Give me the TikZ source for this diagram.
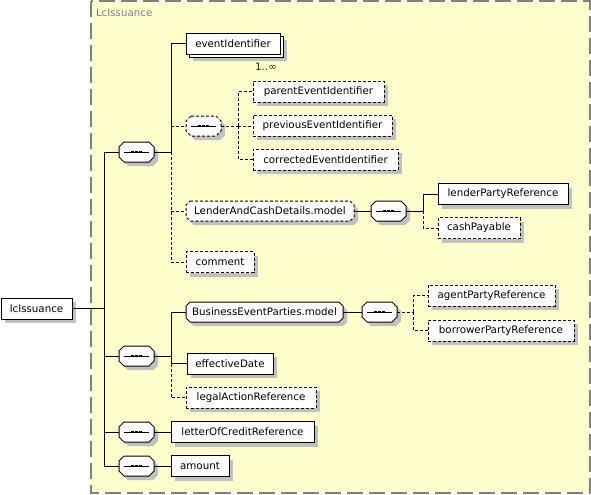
\documentclass[tikz,border=0pt]{standalone}
\usepackage{fontspec}
\setmainfont{DejaVu Sans}
\usetikzlibrary{shadows}
\definecolor{frameyellow}{RGB}{255,255,206}
\definecolor{framegray}{RGB}{128,128,128}
\definecolor{shadowgray}{RGB}{192,192,192}
\definecolor{labelblue}{RGB}{125,125,155}
\definecolor{occurs}{RGB}{40,40,0}
\pgfdeclarelayer{back}
\pgfdeclarelayer{bg}
\pgfsetlayers{back,bg,main}
\newcommand{\octo}[3]{%
  \draw[line width=0.75pt, fill=white, drop shadow={shadow xshift=3pt,shadow yshift=-3pt,fill=shadowgray,opacity=1}, #3]
    ([xshift=#2]#1.north west) -- ([xshift=-#2]#1.north east) -- ([yshift=-#2]#1.north east)
    -- ([yshift=#2]#1.south east) -- ([xshift=-#2]#1.south east) -- ([xshift=#2]#1.south west)
    -- ([yshift=#2]#1.south west) -- ([yshift=-#2]#1.north west) -- cycle;}
\begin{document}
\begin{tikzpicture}[x=0.75pt,y=-0.75pt,
  every node/.style={font=\fontsize{7.7}{9}\selectfont, inner sep=0pt, outer sep=0pt},
  shd/.style={drop shadow={shadow xshift=3pt,shadow yshift=-3pt,fill=shadowgray,opacity=1}},
  bw/.style={minimum width=#1*0.75pt},
  opt/.style={dash pattern=on 2.25pt off 1.5pt},
  conn/.style={line width=0.75pt},
  elem/.style={draw, fill=white, line width=0.75pt, rectangle, minimum height=15.75pt, anchor=west, shd},
  seqbox/.style={rectangle, minimum width=26.25pt, minimum height=15pt, anchor=west},
  modelbox/.style={rectangle, minimum height=15pt, anchor=west}
]
\useasboundingbox (0,0) rectangle (591,494);
% frame
\begin{pgfonlayer}{back}
\draw[framegray, line width=1.3pt, fill=frameyellow, dash pattern=on 12pt off 4.5pt] (91,1) rectangle (590,493);
\end{pgfonlayer}
\node[anchor=west, text=labelblue] (lbl) at (96,13) {LcIssuance};

% root
\node[elem, bw=71] (root) at (1,308.5) {lcIssuance};

% sequences
\node[seqbox] (s1) at (119,152) {};
\node[seqbox] (s2) at (119,356) {};
\node[seqbox] (s5) at (119,432) {};
\node[seqbox] (s6) at (119,466) {};
\node[seqbox] (so) at (186,126) {};
\node[seqbox] (s3) at (371,211) {};
\node[seqbox] (s4) at (362,312) {};

% group 1
\node[elem, bw=94] (eiback) at (189,46.5) {\phantom{eventIdentifier}};
\node[draw, fill=white, line width=0.75pt, rectangle, minimum height=15.75pt, anchor=west, bw=94] (ei) at (186,43.5) {eventIdentifier};
\node[text=occurs] (occ) at (266,67) {1..∞};
\node[elem, opt, bw=131] (pei) at (253,91.5) {parentEventIdentifier};
\node[elem, opt, bw=139] (vei) at (253,125.5) {previousEventIdentifier};
\node[elem, opt, bw=145] (cei) at (253,159.5) {correctedEventIdentifier};
\node[modelbox, bw=168] (lcd) at (186,211) {LenderAndCashDetails.model};
\node[elem, bw=130] (lpr) at (438,194) {lenderPartyReference};
\node[elem, opt, bw=82] (cp) at (438,228) {cashPayable};
\node[elem, opt, bw=68] (cm) at (186,262) {comment};

% group 2
\node[modelbox, bw=157] (bep) at (186,312) {BusinessEventParties.model};
\node[elem, opt, bw=127] (apr) at (428,295.5) {agentPartyReference};
\node[elem, opt, bw=146] (bpr) at (428,330.5) {borrowerPartyReference};
\node[elem, bw=86] (ed) at (187,363.5) {effectiveDate};
\node[elem, opt, bw=130] (lar) at (186,397.5) {legalActionReference};

% others
\node[elem, bw=143] (locr) at (171,432) {letterOfCreditReference};
\node[elem, bw=58] (amt) at (171,466) {amount};

% octagon outlines
\begin{pgfonlayer}{bg}
\foreach \n in {s1,s2,s3,s4,s5,s6} { \octo{\n}{3.75pt}{} }
\octo{so}{3.75pt}{opt}
\octo{lcd}{3pt}{opt}
\octo{bep}{3pt}{}
\end{pgfonlayer}

% sequence icons
\foreach \n in {s1,s2,s3,s4,s5,s6,so} {
  \draw[conn] ([xshift=3.5pt]\n.west) -- ([xshift=-3.5pt]\n.east);
  \foreach \dx in {-3,0,3} \fill ([xshift=\dx pt]\n.center) +(-1pt,-1pt) rectangle +(1pt,1pt);
}

% junctions
\coordinate (J0) at (104,308.5);
\coordinate (J1) at (171,152);
\coordinate (J2) at (238,126);
\coordinate (J3) at (423,211);
\coordinate (J4) at (171,356);
\coordinate (J5) at (413,312);

% connectors
\draw[conn] (root.east) -- (J0);
\draw[conn] (J0) |- (s1.west);
\draw[conn] (J0) |- (s6.west);
\draw[conn] (J0 |- s2.west) -- (s2.west);
\draw[conn] (J0 |- s5.west) -- (s5.west);

\draw[conn] (s1.east) -- (J1);
\draw[conn] (J1) |- (ei.west);
\draw[conn, opt] (J1) |- (cm.west);
\draw[conn, opt] (J1 |- so.west) -- (so.west);
\draw[conn, opt] (J1 |- lcd.west) -- (lcd.west);

\draw[conn, opt] (so.east) -- (J2);
\draw[conn, opt] (J2) |- (pei.west);
\draw[conn, opt] (J2) |- (cei.west);
\draw[conn, opt] (J2) -- (J2 -| vei.west);

\draw[conn] (lcd.east) -- (s3.west);
\draw[conn] (s3.east) -- (J3);
\draw[conn] (J3) |- (lpr.west);
\draw[conn, opt] (J3) |- (cp.west);

\draw[conn] (s2.east) -- (J4);
\draw[conn] (J4) |- (bep.west);
\draw[conn] (J4) |- (ed.west);
\draw[conn, opt] (J4 |- ed.west) |- (lar.west);

\draw[conn] (bep.east) -- (s4.west);
\draw[conn, opt] (s4.east) -- (J5);
\draw[conn, opt] (J5) |- (apr.west);
\draw[conn, opt] (J5) |- (bpr.west);

\draw[conn] (s5.east) -- (locr.west);
\draw[conn] (s6.east) -- (amt.west);
\end{tikzpicture}
\end{document}
